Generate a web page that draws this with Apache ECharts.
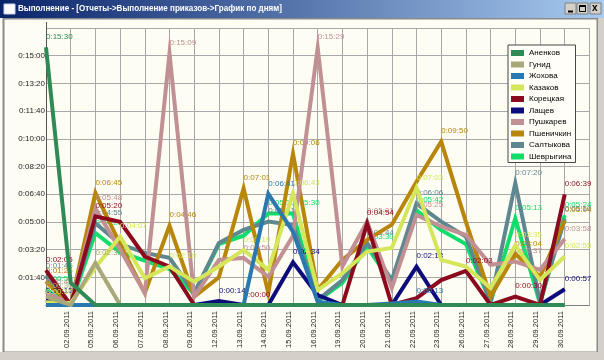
<!DOCTYPE html>
<html><head><meta charset="utf-8">
<script src="https://cdn.jsdelivr.net/npm/echarts@6/dist/echarts.min.js"></script>
<style>html,body{margin:0;padding:0;background:#fdfdf4;}#c{width:604px;height:360px;}</style>
</head><body><div id="c"></div>
<script>
const windowTitle = 'Выполнение - [Отчеты->Выполнение приказов->График по дням]';
const categories = ['', '02.09.2011','05.09.2011','06.09.2011','07.09.2011','08.09.2011','09.09.2011','12.09.2011','13.09.2011','14.09.2011','15.09.2011','16.09.2011','19.09.2011','20.09.2011','21.09.2011','22.09.2011','23.09.2011','26.09.2011','27.09.2011','28.09.2011','29.09.2011','30.09.2011',''];
const names = ['Аненков','Гунид','Жохова','Казаков','Корецкая','Лащев','Пушкарев','Пшеничкин','Салтыкова','Шеврыгина'];
const colors = ['#2f8a55','#a8a87a','#2a78b0','#d6e65a','#8b0a1e','#0c0c7a','#c09094','#b8860b','#5f8790','#10dd6a'];
// seconds per day
const anenkov    = [930, 80,  0,  0,  0,  0,  0,  0,  0,  0,  0,  0,  0,  0,  0,  0,  0,  0,  0,  0,  0,  0];
const gunid      = [ 30,  0,152,  0,  0,  0,  0,  0,  0,  0,  0,  0,  0,  0,  0,  0,  0,  0,  0,  0,  0,  0];
const zhokhova   = [  0,  0,  0,  0,  0,  0,  0,  0,  0,401,265, 12,  0,  0,  5, 13,  0,  0,  0,  0,  0,  0];
const kazakov    = [ 10,  7,135,247, 97,139, 84,139,199,127,403, 54,115,193,206,423,163,139, 61,215, 90,175];
const koretskaya = [125,  0,320,300,175,139,  0,  0,0.4, 0,  0,  0,  0,294,  0, 25, 90,123,  0, 30,  0,399];
const lashchev   = [ 15,  0,  0,  0,  0,  0,  0, 14,  0,  0,154, 36,  0,  0,  0,138,  0,  0,  0,  0,  0, 57];
const pushkarev  = [ 45,  5,348,200, 43,909, 30,163,170,102,250,929,139,301, 61,325,283,253,145,157,127,238];
const pshenichkin= [ 85,  0,405,220, 43,286, 30,100,421, 43,546, 54,163,235,290,445,590,300, 30,184,102,304];
const saltykova  = [105,  0,295,220,188,170, 43,224,271,301,289, 18, 90,224, 90,366,301,247, 10,440, 10,310];
const shevrygina = [ 55,  0,260,190,160,130, 40,220,250,330,330, 15, 80,210, 80,342,270,220, 10,313,  5,324];
const seriesData = [anenkov,gunid,zhokhova,kazakov,koretskaya,lashchev,pushkarev,pshenichkin,saltykova,shevrygina];

function fmt(v){v=Math.floor(v);const h=Math.floor(v/3600),m=Math.floor(v%3600/60),s=v%60;return h+':'+String(m).padStart(2,'0')+':'+String(s).padStart(2,'0');}
function isPeak(arr,i){const v=arr[i];if(!(v>0))return false;if(i>0&&v<arr[i-1])return false;if(i<arr.length-1&&v<arr[i+1])return false;return true;}
const FF = 'Liberation Sans, Arial, sans-serif';
const chart = echarts.init(document.getElementById('c'));
const series = names.map((n,i)=>({
  name:n, type:'line', data:seriesData[i], z: 12 - i,
  symbol:'circle', symbolSize:1, showSymbol:true, showAllSymbol:true,
  itemStyle:{color:colors[i]},
  lineStyle:{width:4,color:colors[i],join:'miter'},
  label:{show:true, position:'top', distance:6, align:'left', fontSize:8, fontFamily:FF, color:colors[i],
    formatter:p=> isPeak(seriesData[i],p.dataIndex) ? fmt(p.value) : ''},
  emphasis:{disabled:true}, animation:false
}));
chart.setOption({
  animation:false,
  backgroundColor:'#fdfdf4',
  grid:{left:46, top:28, width:543.4, height:277, containLabel:false},
  xAxis:{type:'category', data:categories, boundaryGap:false,
    axisLine:{lineStyle:{color:'#808080',width:1}}, axisTick:{show:false},
    axisLabel:{interval:0, rotate:90, verticalAlign:'bottom', margin:6, fontSize:7.5, fontFamily:FF, color:'#222'},
    splitLine:{show:true, lineStyle:{color:'#a8a8a8',width:1}}},
  yAxis:{type:'value', min:0, max:1000, interval:100,
    axisLine:{show:true, lineStyle:{color:'#555',width:1}}, axisTick:{show:false},
    axisLabel:{margin:1, fontSize:8, fontFamily:FF, color:'#222', formatter:v=> (v===0||v===1000)?'':fmt(v)},
    splitLine:{show:true, lineStyle:{color:'#a8a8a8',width:1}}},
  legend:{orient:'vertical', left:508, top:45, z:50, data:names, icon:'rect', itemWidth:13, itemHeight:6, itemGap:3.5,
    padding:[4,4,2,3], backgroundColor:'#fffff8', borderColor:'#444', borderWidth:1,
    textStyle:{fontSize:8, lineHeight:8, fontFamily:FF, color:'#000'}, selectedMode:false},
  graphic:[
    {type:'rect', z:-1, silent:true, shape:{x:3.5,y:18.5,width:594,height:334}, style:{fill:'none', stroke:'#8a8a8a', lineWidth:2}},
    {type:'rect', z:0, shape:{x:0,y:352,width:604,height:8}, style:{fill:'#d4d0c8'}},
    {type:'rect', z:0, shape:{x:598,y:0,width:6,height:360}, style:{fill:'#d4d0c8'}},
    {type:'rect', z:1, shape:{x:0,y:0,width:604,height:18},
      style:{fill:new echarts.graphic.LinearGradient(0,0,1,0,[{offset:0,color:'#0a246a'},{offset:1,color:'#a6caf0'}])}},
    {type:'rect', z:2, shape:{x:4,y:4,width:11,height:10}, style:{fill:'#fff', stroke:'#c8d4e8', lineWidth:1}},
    {type:'text', z:2, x:18, y:3, scaleX:0.85, style:{text:windowTitle, fill:'#fff', font:'bold 9.5px '+FF}},
    {type:'rect', z:2, shape:{x:565,y:3,width:11,height:11}, style:{fill:'#d4d0c8', stroke:'#808080', lineWidth:1}},
    {type:'rect', z:2, shape:{x:577,y:3,width:11,height:11}, style:{fill:'#d4d0c8', stroke:'#808080', lineWidth:1}},
    {type:'rect', z:2, shape:{x:590,y:3,width:11,height:11}, style:{fill:'#d4d0c8', stroke:'#808080', lineWidth:1}},
    {type:'line', z:3, shape:{x1:568,y1:11.5,x2:573,y2:11.5}, style:{stroke:'#000', lineWidth:2}},
    {type:'rect', z:3, shape:{x:579.5,y:5.5,width:6,height:6}, style:{fill:'none', stroke:'#000', lineWidth:1}},
    {type:'line', z:3, shape:{x1:579.5,y1:6,x2:585.5,y2:6}, style:{stroke:'#000', lineWidth:2}},
    {type:'text', z:3, left:592, top:3, style:{text:'x', fill:'#000', font:'bold 10px '+FF}},
    {type:'line', z:3, shape:{x1:46.5,y1:22,x2:46.5,y2:28}, style:{stroke:'#555', lineWidth:1}}
  ],
  series: series.slice()
});
</script></body></html>
